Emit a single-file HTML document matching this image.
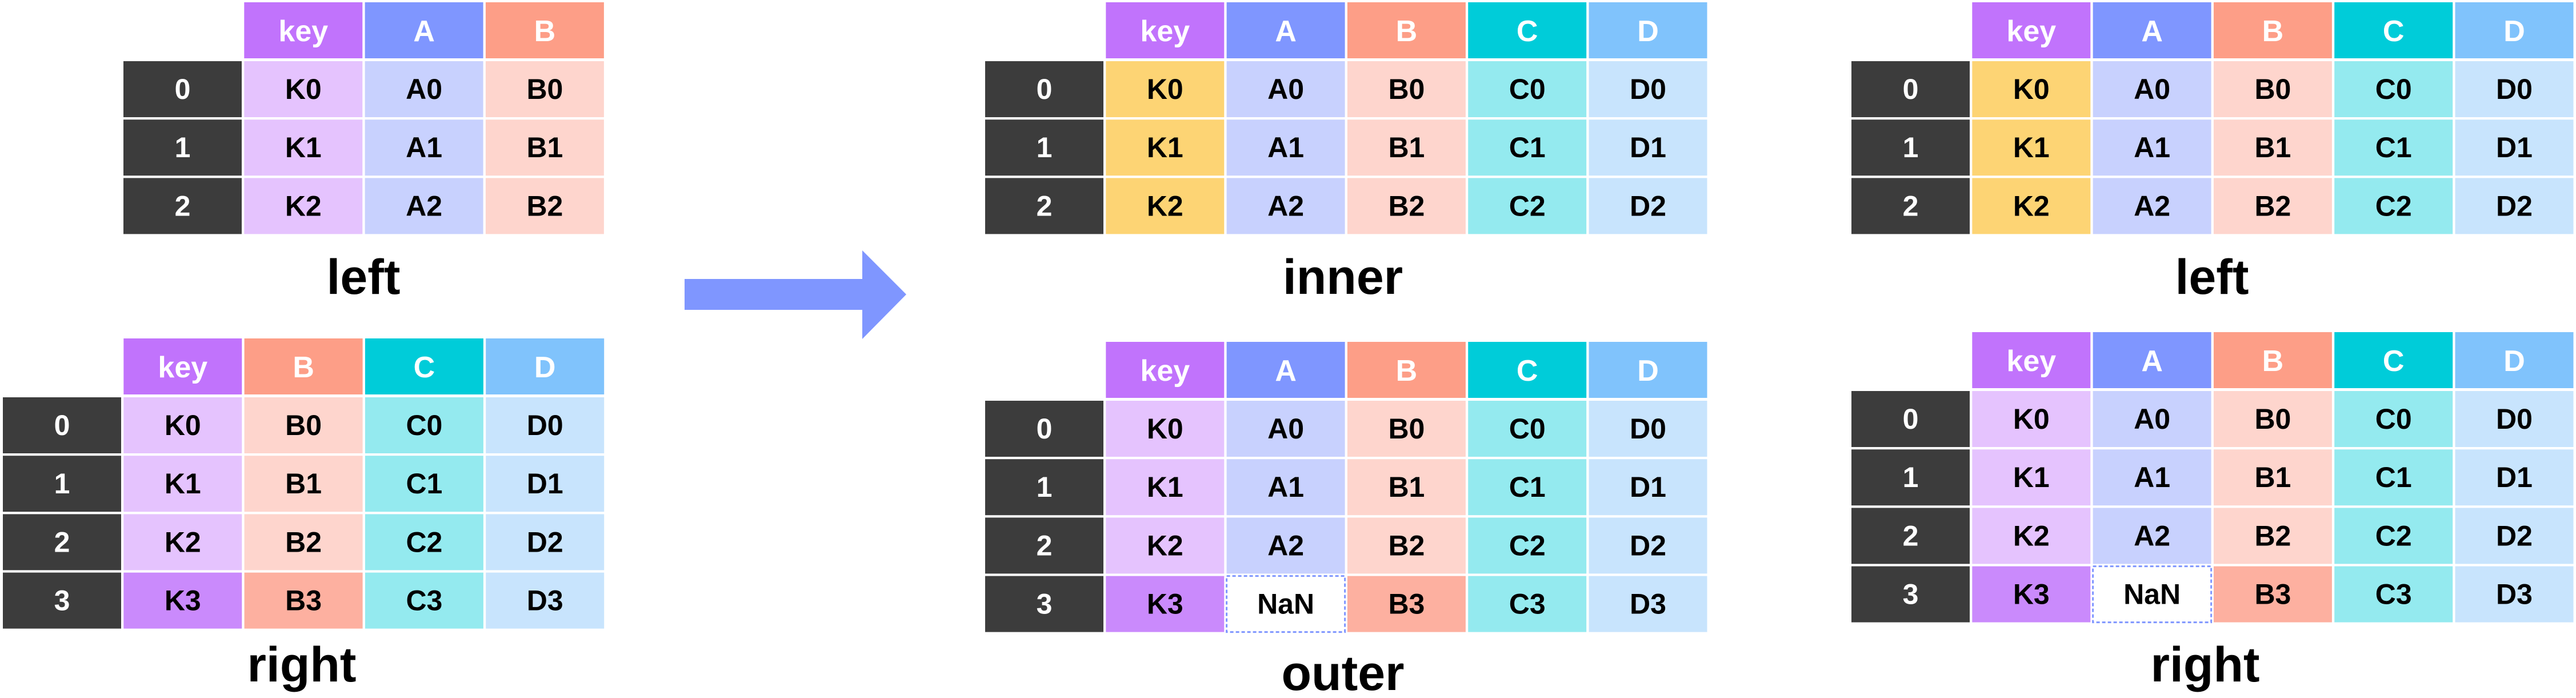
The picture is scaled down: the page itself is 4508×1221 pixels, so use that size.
<!DOCTYPE html>
<html><head><meta charset="utf-8"><style>
html,body{margin:0;padding:0;background:#fff;}
svg{display:block;}
text{font-family:"Liberation Sans",Arial,sans-serif;font-weight:bold;}
</style></head>
<body>
<svg id="fig" xmlns="http://www.w3.org/2000/svg" width="4508" height="1221" viewBox="0 0 4508 1221">
<polygon points="1198,488 1509,488 1509,438 1586,515 1509,593 1509,542 1198,542" fill="#7f96ff"/>
</svg>
<script>
const HEAD = {key:'#c173fc', A:'#7f96ff', B:'#fd9e87', C:'#00ccd9', D:'#80c3fc'};
const LIGHT = {key:'#e5c3fe', A:'#c8d1fe', B:'#fed5cd', C:'#94eaef', D:'#c8e4fd'};
const YELLOW = '#fdd474';
const DARK = {key:'#ca8afc', B:'#fdb0a0'};
const CW = 207, CP = 211.3, RH = 98, RP = 102.2;
const tables = [
  {name:'left-input', x:216, y:4, cols:['key','A','B'], rows:3, title:'left', tx:636, ty:514},
  {name:'right-input', x:5, y:592, cols:['key','B','C','D'], rows:4, title:'right', tx:528, ty:1192, k3dark:true},
  {name:'inner-result', x:1724, y:4, cols:['key','A','B','C','D'], rows:3, title:'inner', tx:2350, ty:514, yellow:true},
  {name:'outer-result', x:1724, y:598, cols:['key','A','B','C','D'], rows:4, title:'outer', tx:2350, ty:1207, k3dark:true, nan:true},
  {name:'left-result', x:3240, y:4, cols:['key','A','B','C','D'], rows:3, title:'left', tx:3871, ty:514, yellow:true},
  {name:'right-result', x:3240, y:581, cols:['key','A','B','C','D'], rows:4, title:'right', tx:3859, ty:1192, k3dark:true, nan:true}
];
const svg = document.getElementById('fig');
const NS = 'http://www.w3.org/2000/svg';
tables.forEach(t=>{
  const g = document.createElementNS(NS,'g'); svg.appendChild(g);
  
  
  const add=(tag,a)=>{const e=document.createElementNS(NS,tag);for(const k in a)e.setAttribute(k,a[k]);g.appendChild(e);return e;};
  t.cols.forEach((c,ci)=>{
    const x = t.x + CP*(ci+1);
    const r = add('rect',{x:x,y:t.y,width:CW,height:RH,fill:HEAD[c]});
    
    
    const tx = add('text',{x:x+CW/2,y:t.y+RH/2+2,'text-anchor':'middle','dominant-baseline':'central','font-size':52,fill:'#fff'});
    tx.textContent = c;
    
    
  });
  for(let r=0;r<t.rows;r++){
    const y = t.y + RH + 5 + RP*r;
    const ir = add('rect',{x:t.x,y:y,width:CW,height:RH,fill:'#3c3c3c'});
    
    
    const it = add('text',{x:t.x+CW/2,y:y+RH/2,'text-anchor':'middle','dominant-baseline':'central','font-size':50,fill:'#fff'});
    it.textContent = String(r);
    
    
    t.cols.forEach((c,ci)=>{
      const x = t.x + CP*(ci+1);
      let fill = LIGHT[c], label = (c==='key'?'K':c)+r, nan=false;
      if(c==='key' && t.yellow) fill = YELLOW;
      if(r===3 && t.k3dark && DARK[c]) fill = DARK[c];
      if(r===3 && t.nan && c==='A'){ nan=true; label='NaN'; fill='#fff'; }
      const cr = add('rect',{x:x,y:y,width:CW,height:RH,fill:fill});
      if(nan){cr.setAttribute('stroke','#7f96ff');cr.setAttribute('stroke-width','3');cr.setAttribute('stroke-dasharray','6 4');}
      
      
      const ct = add('text',{x:x+CW/2,y:y+RH/2,'text-anchor':'middle','dominant-baseline':'central','font-size':50,fill:'#000'});
      ct.textContent = label;
      
      
    });
  }
  const tt = add('text',{x:t.tx,y:t.ty,'text-anchor':'middle','font-size':86,fill:'#000'});
  tt.textContent = t.title;
  
  
});
</script>
</body></html>
